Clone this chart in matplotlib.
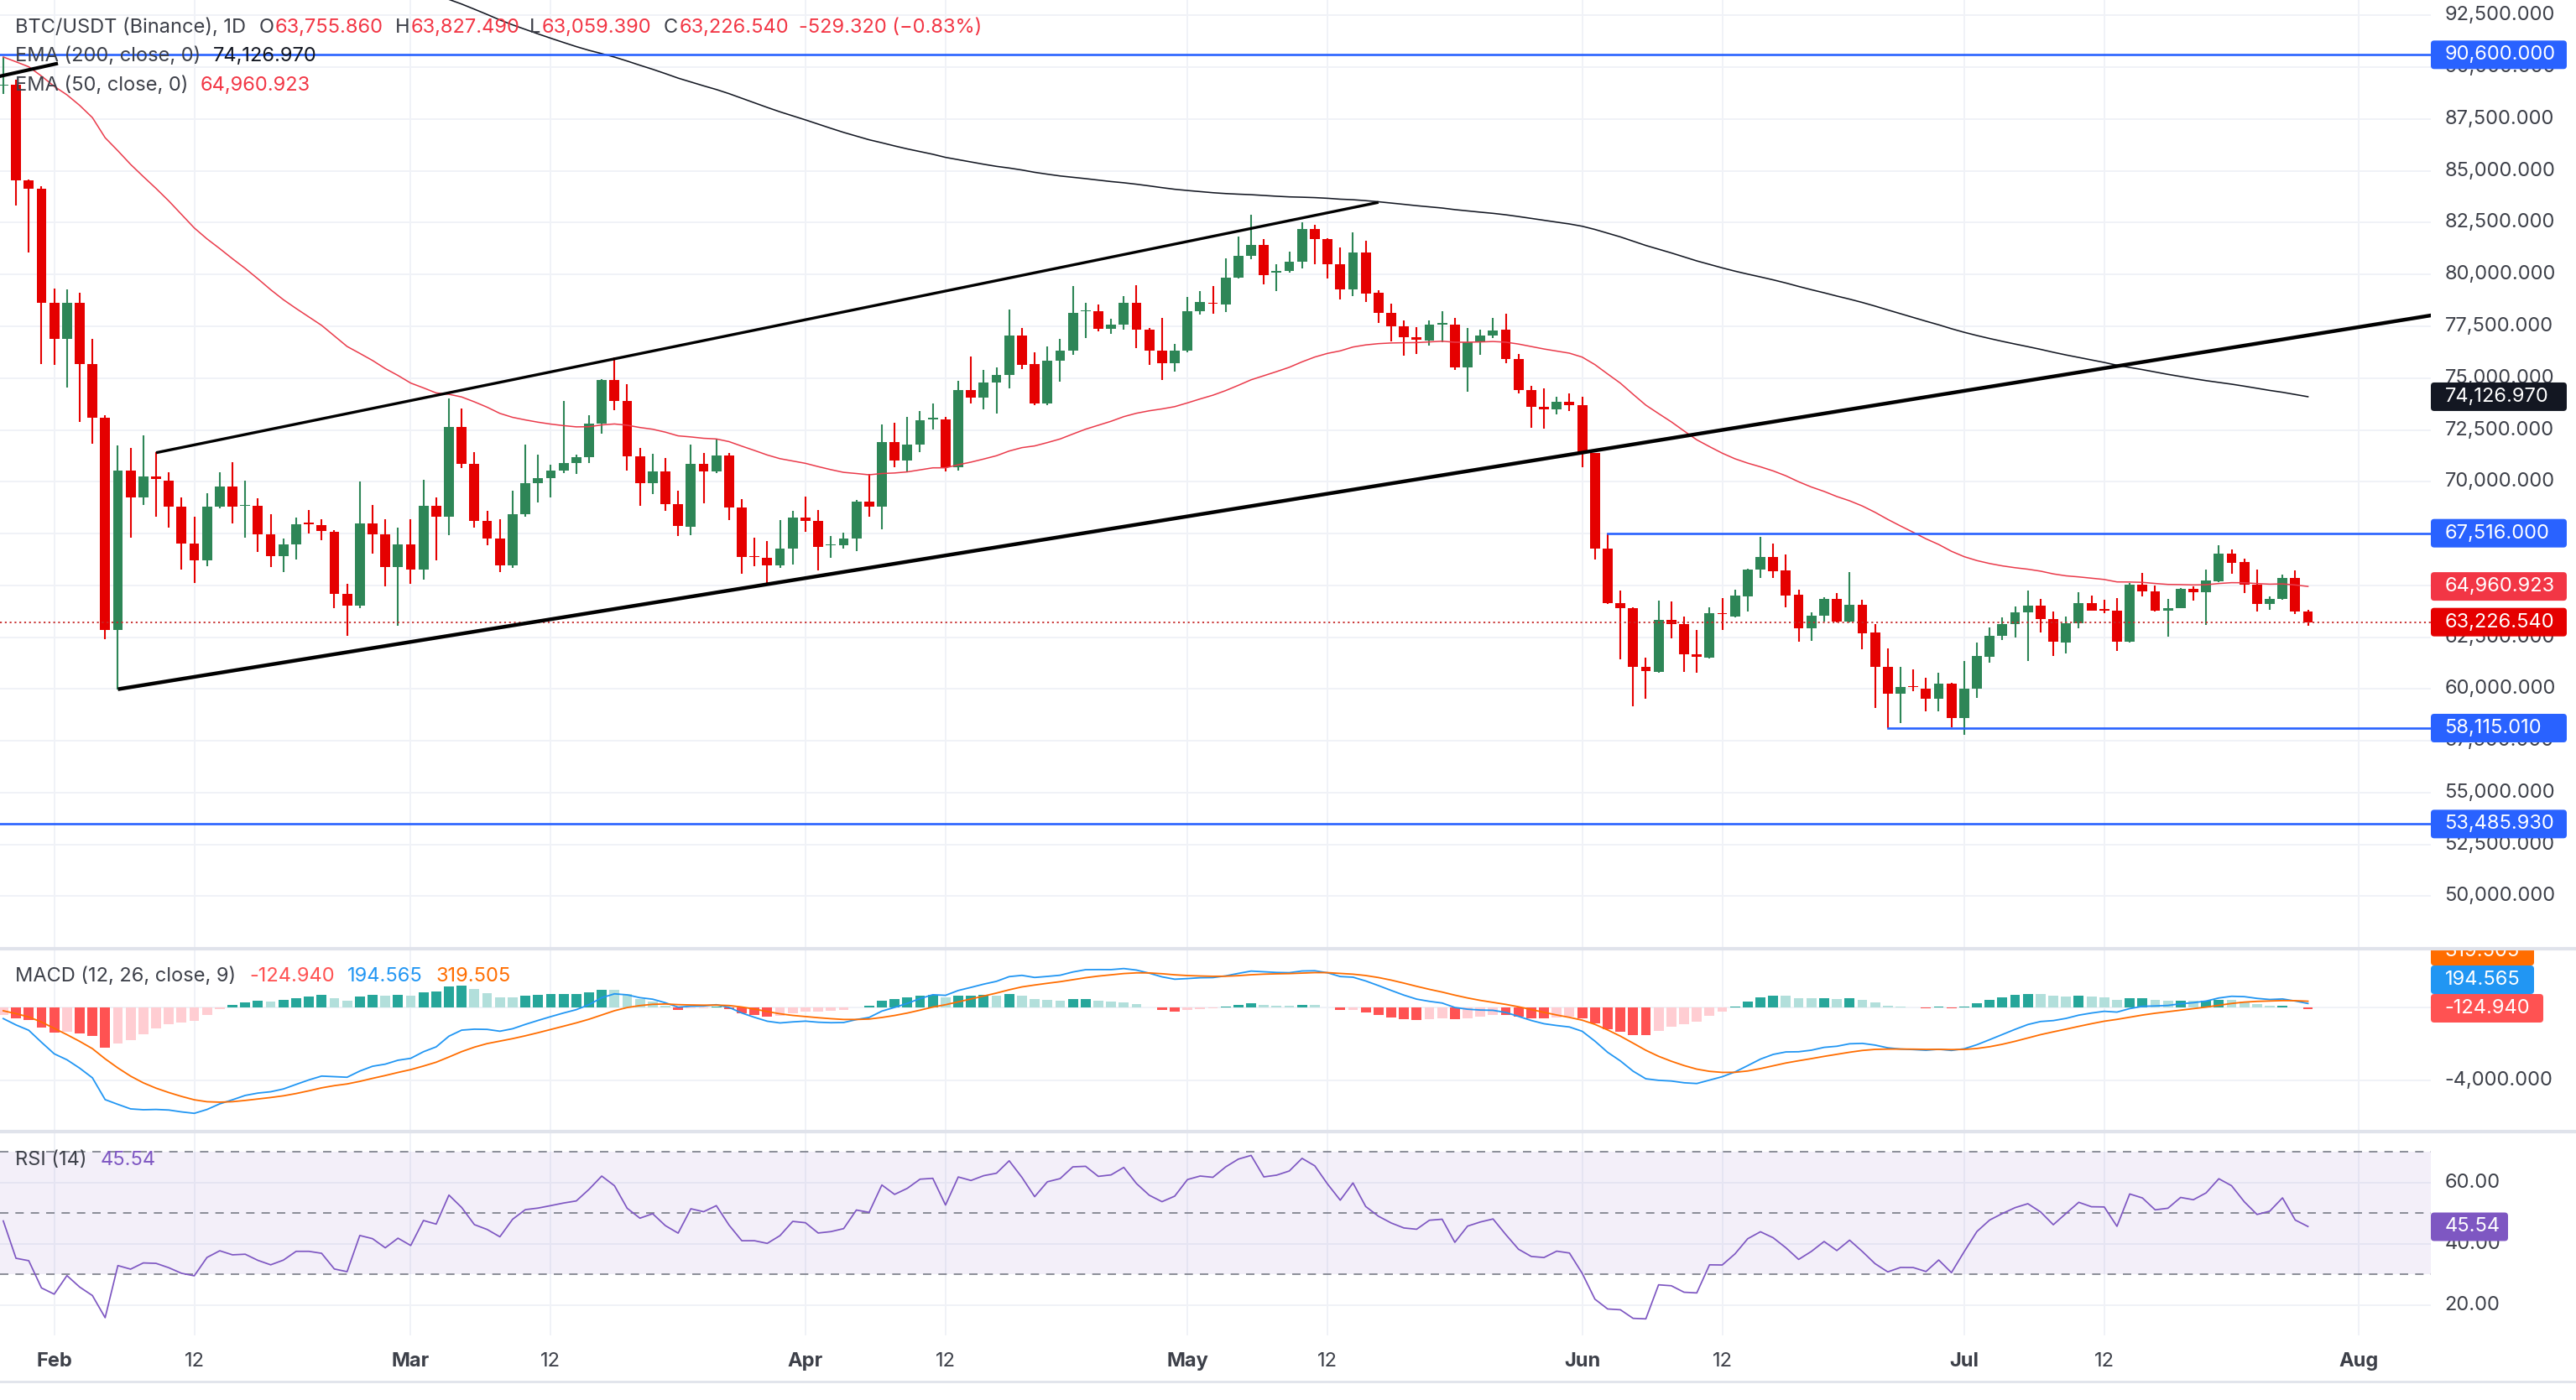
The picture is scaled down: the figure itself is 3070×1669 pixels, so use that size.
import numpy as np
import pandas as pd
import matplotlib
matplotlib.use("Agg")
import matplotlib.pyplot as plt
from matplotlib.patches import FancyBboxPatch, Rectangle
from matplotlib.transforms import IdentityTransform
from matplotlib.lines import Line2D

plt.rcParams['font.family'] = ['Inter', 'DejaVu Sans']

# ---------------- data (BTC/USDT daily candles) ----------------
start_date = "2026-01-28"
opens = [89100, 89146, 84528, 84146, 78624, 76897, 78624, 75693, 73102, 62841,
         70532, 69227, 70271, 70070, 68785, 67018, 66215, 68785, 69769, 68825,
         68825, 67460, 66416, 66958, 68022, 67922, 67580, 64608, 64030, 67999,
         67458, 65878, 66985, 65769, 68850, 68309, 72660, 70876, 68107, 67269,
         65972, 68444, 69930, 70174, 70538, 70903, 71187, 72808, 74902, 73889,
         71241, 69930, 70498, 68917, 67837, 70877, 70499, 71282, 68769, 66418,
         66337, 65973, 66756, 68269, 68107, 66945, 66945, 67256, 69039, 68810,
         71917, 71039, 71782, 73025, 73025, 70701, 74417, 74079, 74781, 75133,
         77051, 75678, 73773, 75840, 76313, 78230, 78231, 77394, 77597, 78637,
         77326, 76313, 75732, 76313, 78231, 78637, 78542, 79853, 80906, 81420,
         80096, 80163, 80636, 82190, 81717, 80501, 79285, 81069, 79117, 78154,
         77486, 76989, 76819, 77595, 77595, 75514, 76741, 77067, 77331, 75933,
         74427, 73604, 73480, 73868, 73682, 71383, 66771, 64131, 63898, 61056,
         60823, 63323, 63121, 61692, 61511, 63652, 63516, 64465, 65752, 66362,
         65711, 64533, 62947, 63557, 64329, 63272, 64045, 62744, 61077, 59790,
         60129, 60020, 59546, 60264, 58611, 60020, 61552, 62568, 63150, 63679,
         64031, 63381, 62243, 63189, 64135, 63851, 63783, 62297, 65040, 64729,
         63797, 63919, 64837, 64675, 65202, 66526, 66121, 65040, 64121, 64364,
         65378, 63755.86]
highs = [90500, 89400, 84600, 84250, 79307, 79267, 79106, 76897, 73200, 71737,
         71637, 72239, 71436, 70472, 69227, 68323, 69427, 70472, 70934, 70070,
         69186, 68423, 67259, 68263, 68624, 68183, 67660, 65067, 69998, 68877,
         68201, 67769, 68201, 70106, 69255, 74024, 73551, 71444, 68580, 68201,
         69552, 71781, 71322, 70809, 73916, 71309, 73200, 74956, 76010, 74700,
         71619, 71349, 71146, 69552, 71782, 71377, 72052, 71404, 69148, 67283,
         67121, 68134, 68580, 69283, 68634, 67391, 67526, 69120, 70363, 72755,
         72836, 73133, 73403, 73782, 73133, 74862, 76038, 75403, 75497, 78294,
         77416, 76246, 76516, 76881, 79447, 78637, 78542, 77867, 78975, 79488,
         77435, 77907, 76651, 78921, 79218, 79447, 80798, 81812, 82865, 81717,
         80501, 81082, 82528, 82393, 81758, 81285, 82028, 81609, 79226, 78604,
         77797, 77455, 77797, 78216, 77921, 77409, 77331, 77921, 78108, 76166,
         74614, 74505, 74101, 74272, 74117, 71400, 67516, 64752, 63944, 61522,
         64255, 64208, 63509, 62842, 63944, 64397, 64776, 65820, 67337, 67012,
         66497, 64803, 63679, 64424, 64627, 65644, 64289, 63150, 61958, 61057,
         60942, 60535, 60779, 60300, 61348, 62229, 62974, 63476, 63991, 64736,
         64329, 63747, 63486, 64662, 64500, 64297, 64405, 65107, 65607, 65000,
         64364, 64878, 64945, 65783, 66931, 66729, 66283, 65783, 64459, 65540,
         65716, 63827.49]
lows = [88700, 83323, 81074, 75693, 75653, 74548, 72881, 71837, 62400, 59990,
        67319, 68865, 68323, 67781, 65773, 65110, 65914, 68725, 67982, 67319,
        66616, 65873, 65653, 66255, 67520, 67179, 63906, 62550, 63919, 66512,
        64959, 63040, 65094, 65270, 66215, 67431, 70674, 67796, 66931, 65634,
        65850, 68300, 69012, 69255, 70403, 70363, 70903, 72335, 73443, 70538,
        68850, 69417, 68607, 67390, 67432, 68945, 70431, 68161, 65567, 65905,
        65027, 65838, 66000, 67594, 65730, 66310, 66783, 66648, 68310, 67702,
        70701, 70499, 71444, 72525, 70499, 70539, 73782, 73512, 73295, 74525,
        75430, 73700, 73706, 74827, 76138, 76948, 77259, 77151, 77326, 76448,
        75638, 74922, 75327, 76250, 78069, 78110, 78205, 79800, 80731, 79515,
        79218, 80100, 80298, 80501, 79826, 78785, 78947, 78677, 77673, 76788,
        76089, 76166, 76555, 76741, 75390, 74334, 76120, 76943, 75700, 74256,
        72595, 72564, 73262, 73418, 70700, 66258, 64100, 61413, 59161, 59518,
        60792, 62453, 60823, 60792, 61490, 62839, 63448, 63720, 65372, 65372,
        63923, 62297, 62337, 63245, 63200, 63200, 61931, 59085, 58115, 58367,
        59885, 58936, 58909, 58164, 57785, 59587, 61253, 62365, 62473, 61348,
        62730, 61592, 61730, 62946, 63780, 63662, 61838, 62250, 64472, 63756,
        62541, 63900, 64270, 63108, 65175, 65580, 64635, 63756, 63824, 64324,
        63621, 63059.39]
closes = [89150, 84528, 84146, 78624, 76897, 78624, 75693, 73102, 62841, 70532,
          69227, 70271, 70130, 68785, 67018, 66215, 68785, 69769, 68785, 68865,
          67460, 66416, 66958, 67962, 67962, 67620, 64608, 64030, 67999, 67458,
          65878, 66985, 65769, 68850, 68309, 72660, 70876, 68107, 67269, 65972,
          68444, 69930, 70174, 70538, 70903, 71187, 72808, 74902, 73889, 71241,
          69930, 70498, 68917, 67863, 70877, 70499, 71282, 68769, 66378, 66378,
          65973, 66756, 68269, 68107, 66851, 66986, 67256, 69039, 68810, 71917,
          71039, 71782, 72957, 73066, 70701, 74417, 74079, 74781, 75133, 77051,
          75632, 73773, 75840, 76313, 78164, 78250, 77394, 77597, 78637, 77326,
          76313, 75732, 76313, 78231, 78677, 78583, 79853, 80906, 81420, 79961,
          80163, 80636, 82190, 81717, 80501, 79285, 81069, 79083, 78154, 77486,
          76989, 76865, 77564, 77642, 75514, 76741, 77067, 77300, 75933, 74427,
          73604, 73480, 73868, 73682, 71383, 66771, 64131, 63898, 61056, 60869,
          63323, 63121, 61692, 61537, 63652, 63625, 64492, 65752, 66362, 65684,
          64492, 62947, 63557, 64329, 63245, 64045, 62703, 61050, 59790, 60102,
          60088, 59546, 60264, 58611, 60020, 61579, 62568, 63150, 63679, 64031,
          63381, 62297, 63189, 64135, 63797, 63783, 62297, 65040, 64729, 63783,
          63919, 64837, 64675, 65243, 66526, 66094, 65040, 64121, 64364, 65378,
          63755.86, 63226.54]

# indicator states just before the first visible bar (estimated from the panels)
ema200_seed = 103300
ema50_seed = 90550
ema12_seed = 89500
ema26_seed = 90150
signal_seed = -100
rsi_prev_close = 89100
rsi_gain_seed = 520
rsi_loss_seed = 580

# horizontal levels and drawings
level_full = [90600.0, 53485.93]
level_67516 = 67516.0
level_58115 = 58115.01
last_price = 63226.54
ema200_last = "74,126.970"
ema50_last = "64,960.923"
macd_last = ["-124.940", "194.565", "319.505"]
rsi_last = "45.54"
upper_line = [("2026-02-09", 71400), ("2026-05-16", 83480)]
lower_line = [("2026-02-06", 59990), ("2026-06-11", 72400)]
stub_line = [(-4.3, 89560), (0.16, 90167)]
price_ticks = list(range(50000, 92501, 2500))
month_ticks = ["2026-02-01", "2026-02-12", "2026-03-01", "2026-03-12", "2026-04-01",
               "2026-04-12", "2026-05-01", "2026-05-12", "2026-06-01", "2026-06-12",
               "2026-07-01", "2026-07-12", "2026-08-01"]
month_labels = ["Feb", "12", "Mar", "12", "Apr", "12", "May", "12", "Jun", "12", "Jul", "12", "Aug"]

# ---------------- derived ----------------
ref = pd.Timestamp("2026-02-01")
dates = pd.date_range(start_date, periods=len(closes), freq="D")
x = np.array([(d - ref).days for d in dates], float)
o = np.array(opens, float); h = np.array(highs, float)
l = np.array(lows, float); c = np.array(closes, float)


def ema(vals, n, seed):
    k = 2.0 / (n + 1); e = seed; out = []
    for v in vals:
        e = e + k * (v - e); out.append(e)
    return np.array(out)


def rsi(vals, n, prev, g, ls):
    out = []
    for v in vals:
        ch = v - prev; prev = v
        g = (g * (n - 1) + max(ch, 0)) / n
        ls = (ls * (n - 1) + max(-ch, 0)) / n
        out.append(100 - 100 / (1 + g / ls))
    return np.array(out)


e200 = ema(c, 200, ema200_seed)
e50 = ema(c, 50, ema50_seed)
macd = ema(c, 12, ema12_seed) - ema(c, 26, ema26_seed)
sig = ema(macd, 9, signal_seed)
hist = macd - sig
rs = rsi(c, 14, rsi_prev_close, rsi_gain_seed, rsi_loss_seed)


def dx(s):
    return (pd.Timestamp(s) - ref).days

# ---------------- figure ----------------
W, H = 3070, 1669
fig = plt.figure(figsize=(W / 100, H / 100), dpi=100)
fig.patch.set_facecolor("white")
PW = 2897 / W
XMIN, XMAX = -4.257, 186.65


def add_ax(top, bottom):
    a = fig.add_axes([0, 1 - bottom / H, PW, (bottom - top) / H])
    a.set_xlim(XMIN, XMAX)
    a.set_axis_off()
    return a


axm = add_ax(0, 1131)
axd = add_ax(1132, 1348)
axr = add_ax(1350, 1592)
axm.set_ylim(47470, 93243)
axd.set_ylim(-6735, 3128)
axr.set_ylim(9.99, 76.42)

GRID = "#f0f2f7"
for a in (axm, axd, axr):
    for t in month_ticks:
        a.axvline(dx(t), color=GRID, lw=1.4, zorder=0)
for p in price_ticks:
    axm.axhline(p, color=GRID, lw=1.4, zorder=0)
for p in (0, -4000):
    axd.axhline(p, color=GRID, lw=1.4, zorder=0)
for p in (20, 40, 60):
    axr.axhline(p, color=GRID, lw=1.4, zorder=0)

# candles
GREEN, RED = "#2e8657", "#e50000"
cols = np.where(c >= o, GREEN, RED)
axm.vlines(x, l, h, colors=cols, lw=1.5, zorder=3)
axm.bar(x, np.maximum(np.abs(c - o), 45), bottom=np.minimum(o, c), width=0.78,
        color=cols, linewidth=0, zorder=3)

# EMAs
axm.plot(x, e200, color="#131722", lw=1.15, zorder=4)
axm.plot(x, e50, color="#ea3a4a", lw=1.1, zorder=4)

# drawings
(ux0, uy0), (ux1, uy1) = [(dx(d), v) for d, v in upper_line]
axm.plot([ux0, ux1], [uy0, uy1], color="black", lw=2.4, solid_capstyle="butt", zorder=5)
(lx0, ly0), (lx1, ly1) = [(dx(d), v) for d, v in lower_line]
slope = (ly1 - ly0) / (lx1 - lx0)
axm.plot([lx0, XMAX + 2], [ly0, ly0 + slope * (XMAX + 2 - lx0)], color="black", lw=3.2,
         solid_capstyle="butt", zorder=5)
axm.plot([p[0] for p in stub_line], [p[1] for p in stub_line], color="black", lw=3.0, zorder=5)

BLUE = "#2962ff"
for lv in level_full:
    axm.plot([XMIN, XMAX], [lv, lv], color=BLUE, lw=1.9, zorder=5)
axm.plot([dx("2026-06-03"), XMAX], [level_67516] * 2, color=BLUE, lw=1.9, zorder=5)
axm.plot([dx("2026-06-25"), XMAX], [level_58115] * 2, color=BLUE, lw=1.9, zorder=5)
axm.plot([XMIN, XMAX], [last_price] * 2, color="#c62828", lw=1.3,
         linestyle=(0, (1.2, 2.0)), zorder=4)

# MACD panel
hc = []
prev = ema12_seed - ema26_seed - signal_seed
for v in hist:
    if v >= 0:
        hc.append("#26a69a" if v > prev else "#b2dfdb")
    else:
        hc.append("#ff5252" if v < prev else "#ffcdd2")
    prev = v
axd.bar(x, hist, width=0.78, color=hc, linewidth=0, zorder=2)
axd.plot(x, macd, color="#2196f3", lw=1.3, zorder=3)
axd.plot(x, sig, color="#ff6d00", lw=1.3, zorder=3)

# RSI panel
axr.axhspan(30, 70, color="#7e57c2", alpha=0.09, lw=0, zorder=1)
for lv in (70, 50, 30):
    axr.axhline(lv, color="#787b86", lw=1.2, linestyle=(0, (6, 5)), zorder=2)
axr.plot(x, rs, color="#7e57c2", lw=1.25, zorder=3)

# ---------------- labels ----------------
renderer = fig.canvas.get_renderer()
TXT = "#3d4049"
AX_FS = 17
LX = 2913.5


def ypix(a, v):
    return a.transData.transform((0, v))[1]


def ftext(xp, yp, s, **kw):
    return fig.text(xp / W, yp / H, s, **kw)


def box(yc, text, color, x1=3059, hgt=34, tc="white"):
    p = FancyBboxPatch((2897, yc - hgt / 2), x1 - 2897, hgt,
                       boxstyle="round,pad=0,rounding_size=4",
                       transform=IdentityTransform(), facecolor=color,
                       edgecolor="none", zorder=10)
    fig.add_artist(p)
    ftext(LX, yc, text, color=tc, fontsize=AX_FS, va="center", ha="left", zorder=11)


for p in price_ticks:
    ftext(LX, ypix(axm, p), f"{p:,.3f}", color=TXT, fontsize=AX_FS, va="center", ha="left")
ftext(LX, ypix(axd, -4000), "-4,000.000", color=TXT, fontsize=AX_FS, va="center", ha="left")
for p in (20, 40, 60):
    ftext(LX, ypix(axr, p), f"{p:.2f}", color=TXT, fontsize=AX_FS, va="center", ha="left")

box(ypix(axm, 90600), "90,600.000", BLUE)
box(ypix(axm, e200[-1]), ema200_last, "#131722")
box(ypix(axm, level_67516), "67,516.000", BLUE)
box(ypix(axm, e50[-1]), ema50_last, "#f23645")
box(ypix(axm, last_price), "63,226.540", "#e50000")
box(ypix(axm, level_58115), "58,115.010", BLUE)
box(ypix(axm, 53485.93), "53,485.930", BLUE)

box(H - 1134, macd_last[2], "#ff6d00", x1=3020)
box(H - 1168, macd_last[1], "#2196f3", x1=3020)
box(H - 1202, macd_last[0], "#ff5252", x1=3031)
box(ypix(axr, 45.54), rsi_last, "#7e57c2", x1=2989)

# cover for clipped MACD label & separators
fig.add_artist(Rectangle((2880, H - 1131), 200, 40, transform=IdentityTransform(),
                         facecolor="white", edgecolor="none", zorder=12))
for yt, lw in ((1131, 3.0), (1349, 3.0), (1647, 2.0)):
    fig.add_artist(Line2D([0, W], [H - yt, H - yt], transform=IdentityTransform(),
                          color="#e0e3eb", lw=lw, zorder=13))

# time axis labels
for t, lab in zip(month_ticks, month_labels):
    xp = axr.transData.transform((dx(t), 0))[0]
    ftext(xp, H - 1623, lab, color=TXT, fontsize=AX_FS, va="center", ha="center",
          fontweight="bold" if not lab.isdigit() else "normal")

# legends
LG_FS = 17


def chain(xp, yt, parts):
    for s, col in parts:
        t = ftext(xp, H - yt, s, color=col, fontsize=LG_FS, va="center", ha="left", zorder=14)
        xp = t.get_window_extent(renderer).x1 + 1


VAL_RED = "#f23645"
chain(17.9, 33, [("BTC/USDT (Binance), 1D", TXT)])
chain(309, 33, [("O", TXT), ("63,755.860", VAL_RED)])
chain(471, 33, [("H", TXT), ("63,827.490", VAL_RED)])
chain(631, 33, [("L", TXT), ("63,059.390", VAL_RED)])
chain(791, 33, [("C", TXT), ("63,226.540", VAL_RED)])
chain(951.5, 33, [("-529.320 (\u22120.83%)", VAL_RED)])
chain(17.9, 66.7, [("EMA (200, close, 0)", TXT)])
chain(254, 66.7, [(ema200_last, "#131722")])
chain(17.9, 101.7, [("EMA (50, close, 0)", TXT)])
chain(239, 101.7, [(ema50_last, VAL_RED)])
chain(18.5, 1164, [("MACD (12, 26, close, 9)", TXT)])
chain(297.8, 1164, [(macd_last[0], "#ff5252")])
chain(414, 1164, [(macd_last[1], "#2196f3")])
chain(519.7, 1164, [(macd_last[2], "#ff6d00")])
chain(18.5, 1382.7, [("RSI (14)", TXT)])
chain(120, 1382.7, [(rsi_last, "#7e57c2")])

fig.savefig("out.png", dpi=100, facecolor="white")
